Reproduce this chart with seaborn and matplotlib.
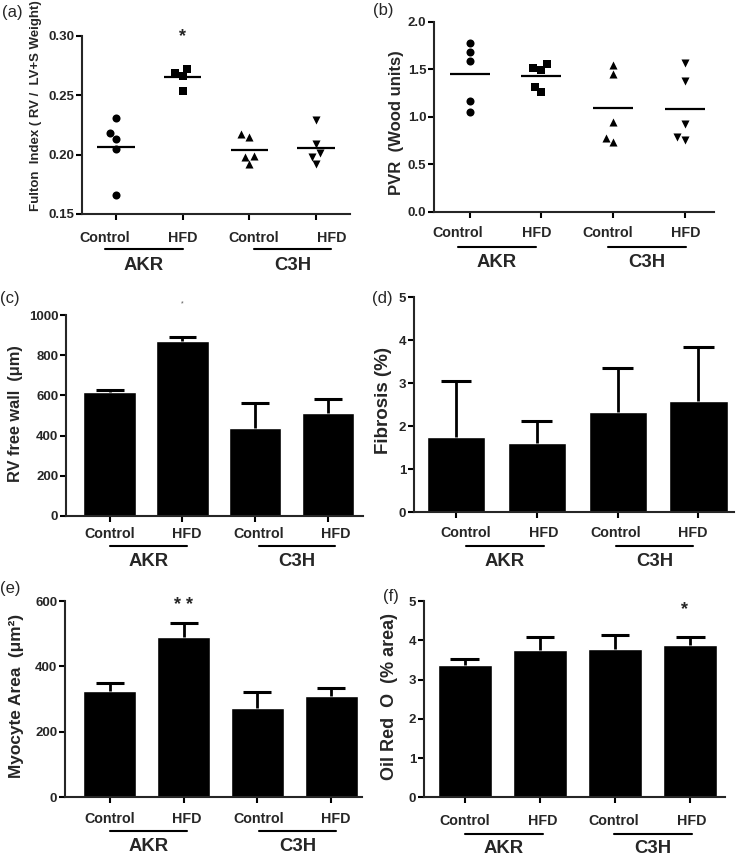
import numpy as np
import matplotlib
matplotlib.use("Agg")
import matplotlib.pyplot as plt
import matplotlib.transforms as mtransforms
import seaborn as sns

# Categories
groups = ["AKR Control", "AKR HFD", "C3H Control", "C3H HFD"]
diet_labels = ["Control", "HFD", "Control", "HFD"]
strains = ["AKR", "C3H"]

# (a) Fulton index, single animals
fulton_akr_ctrl = [0.231, 0.218, 0.213, 0.205, 0.166]
fulton_akr_hfd = [0.269, 0.272, 0.266, 0.254]
fulton_c3h_ctrl = [0.217, 0.215, 0.199, 0.198, 0.192]
fulton_c3h_hfd = [0.229, 0.209, 0.201, 0.198, 0.192]

# (b) PVR, single animals
pvr_akr_ctrl = [1.78, 1.68, 1.59, 1.16, 1.05]
pvr_akr_hfd = [1.55, 1.51, 1.49, 1.31, 1.26]
pvr_c3h_ctrl = [1.54, 1.45, 0.94, 0.78, 0.73]
pvr_c3h_hfd = [1.57, 1.38, 0.92, 0.79, 0.75]

# (c)-(f) group means and SEM
rv_wall_mean = [615, 870, 438, 512]
rv_wall_sem = [12, 20, 125, 70]
fibrosis_mean = [1.75, 1.62, 2.33, 2.58]
fibrosis_sem = [1.30, 0.51, 1.03, 1.26]
myocyte_mean = [325, 490, 272, 309]
myocyte_sem = [23, 43, 49, 24]
oilred_mean = [3.37, 3.76, 3.78, 3.89]
oilred_sem = [0.14, 0.32, 0.36, 0.19]

W, H = 743, 858
sns.set_style("ticks")
plt.rcParams["font.family"] = ["Liberation Sans", "DejaVu Sans"]
plt.rcParams["axes.linewidth"] = 1.5

fig = plt.figure(figsize=(W / 100, H / 100), dpi=100)


def add_ax(l, t, r, b):
    ax = fig.add_axes([l / W, 1 - b / H, (r - l) / W, (b - t) / H])
    ax.px = (l, t, r, b)
    return ax


def offset(ax, dy_px):
    return ax.get_xaxis_transform() + mtransforms.ScaledTranslation(
        0, -dy_px / 100, fig.dpi_scale_trans)


def finish(ax, xlim, ylim, yticks, fmt, ylabel, ylab_xy, ylab_size,
           label_x, offs):
    ax.set_xlim(*xlim)
    ax.set_ylim(*ylim)
    ax.set_xticks(range(4))
    ax.set_xticklabels([])
    ax.set_xlabel("")
    ax.set_yticks(yticks, labels=[fmt.format(t) for t in yticks],
                  fontweight="bold", fontsize=9.5)
    ax.tick_params(direction="out", length=4, width=1.5, pad=1.5,
                   color="black")
    sns.despine(ax=ax)
    l, t, r, b = ax.px
    ax.set_ylabel(ylabel, fontsize=ylab_size, fontweight="bold", va="center")
    ax.yaxis.set_label_coords((ylab_xy[0] - l) / (r - l),
                              (b - ylab_xy[1]) / (b - t))
    tick_off, line_off, grp_off = offs
    for xi, lab in zip(label_x, diet_labels):
        ax.text(xi, 0, lab, transform=offset(ax, tick_off), ha="center",
                va="center", fontsize=10.3, fontweight="bold")
    for k, strain in enumerate(strains):
        x0, x1 = label_x[2 * k], label_x[2 * k + 1]
        ax.plot([x0, x1], [0, 0], transform=offset(ax, line_off),
                color="black", lw=1.5, clip_on=False)
        ax.text((x0 + x1) / 2, 0, strain, transform=offset(ax, grp_off),
                ha="center", va="center", fontsize=13.3, fontweight="bold")


def dot_panel(ax, series):
    for name, vals, mk in zip(groups, series, ["o", "s", "^", "v"]):
        sns.swarmplot(x=[name] * len(vals), y=vals, order=groups, marker=mk,
                      color="black", size=5.8, ax=ax)
    means = [np.mean(v) for v in series]
    ax.hlines(means, np.arange(4) - 0.28, np.arange(4) + 0.28,
              color="black", lw=1.6)


def bar_panel(ax, means, sems):
    sns.barplot(x=groups, y=means, order=groups, color="black",
                saturation=1, width=0.72, errorbar=None, ax=ax)
    # GraphPad style: upper whisker only
    x = np.arange(4)
    tops = np.array(means) + np.array(sems)
    ax.vlines(x, means, tops, color="black", lw=2)
    ax.hlines(tops, x - 0.19, x + 0.19, color="black", lw=2.2)


# (a)
ax = add_ax(82, 36, 350, 214)
dot_panel(ax, [fulton_akr_ctrl, fulton_akr_hfd, fulton_c3h_ctrl,
               fulton_c3h_hfd])
finish(ax, (-0.51, 3.51), (0.15, 0.30), [0.15, 0.20, 0.25, 0.30], "{:.2f}",
       "Fulton  Index ( RV /  LV+S Weight)", (36, 106), 9.5,
       [-0.17, 1.0, 2.07, 3.23], (24, 35, 51))
ax.text(1, 0.2995, "*", ha="center", va="center", fontsize=13,
        fontweight="bold")

# (b)
ax = add_ax(434, 21.7, 714, 211.7)
dot_panel(ax, [pvr_akr_ctrl, pvr_akr_hfd, pvr_c3h_ctrl, pvr_c3h_hfd])
finish(ax, (-0.5, 3.41), (0, 2.0), [0, 0.5, 1.0, 1.5, 2.0], "{:.1f}",
       "PVR  (Wood units)", (396, 123), 12,
       [-0.17, 0.93, 1.93, 3.02], (21.7, 35.5, 51))

# (c)
ax = add_ax(66, 315, 363, 516)
bar_panel(ax, rv_wall_mean, rv_wall_sem)
finish(ax, (-0.6, 3.48), (0, 1000), [0, 200, 400, 600, 800, 1000], "{:d}",
       "RV free wall  (\u03bcm)", (16, 414), 11.8,
       [0.0, 1.06, 2.05, 3.1], (18, 30, 45.7))
ax.text(1, 1055, "*", ha="center", va="center", fontsize=5, color="#555555")

# (d)
ax = add_ax(414, 297, 734, 512.3)
bar_panel(ax, fibrosis_mean, fibrosis_sem)
finish(ax, (-0.52, 3.44), (0, 5), [0, 1, 2, 3, 4, 5], "{:d}",
       "Fibrosis (%)", (383, 401), 13.5,
       [0.12, 1.09, 1.98, 2.93], (21, 34, 49))

# (e)
ax = add_ax(65, 601, 362, 797.3)
bar_panel(ax, myocyte_mean, myocyte_sem)
finish(ax, (-0.61, 3.42), (0, 600), [0, 200, 400, 600], "{:d}",
       "Myocyte Area  (\u03bcm\u00b2)", (16, 696), 12.4,
       [0.0, 1.04, 2.02, 3.07], (22, 33.4, 49.4))
ax.text(1, 587, "* *", ha="center", va="center", fontsize=13,
        fontweight="bold")

# (f)
ax = add_ax(424, 601, 725, 797.3)
bar_panel(ax, oilred_mean, oilred_sem)
finish(ax, (-0.54, 3.46), (0, 5), [0, 1, 2, 3, 4, 5], "{:d}",
       "Oil Red  O  (% area)", (390, 696), 13,
       [0.0, 1.04, 1.98, 3.02], (23.4, 37, 51))
ax.text(2.92, 4.78, "*", ha="center", va="center", fontsize=13,
        fontweight="bold")

# panel letters
for lab, (x, y) in zip(["(a)", "(b)", "(c)", "(d)", "(e)", "(f)"],
                       [(12, 12), (383, 11), (10, 298), (382, 299),
                        (10, 589), (391, 596)]):
    fig.text(x / W, 1 - y / H, lab, ha="center", va="center", fontsize=12)

fig.savefig("out.png", dpi=100)
